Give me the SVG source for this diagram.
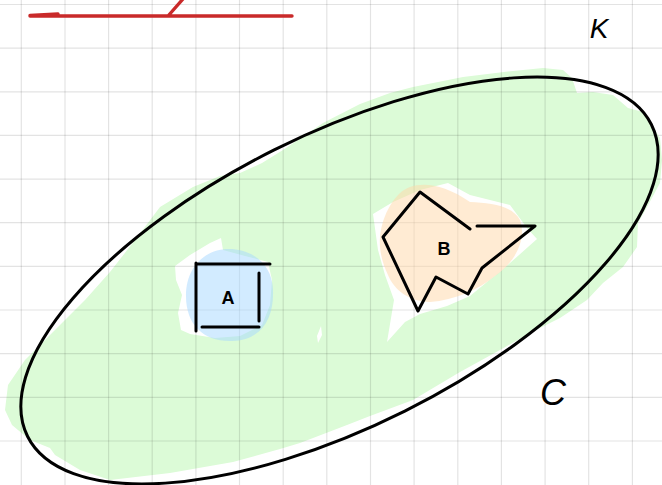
<svg xmlns="http://www.w3.org/2000/svg" width="662" height="485" viewBox="0 0 662 485">
  <style>
    .grid line { stroke: #000; stroke-opacity: 0.11; stroke-width: 1.2; }
    .ink { fill: none; stroke: #000; stroke-width: 3; stroke-linecap: round; stroke-linejoin: round; }
    .label { font-family: "Liberation Sans", Arial, sans-serif; fill: #000; text-anchor: middle; }
    .red { fill: none; stroke: #c92a2a; stroke-width: 3.4; stroke-linecap: round; }
  </style>
  <rect x="0" y="0" width="662" height="485" fill="#ffffff"/>

  <!-- fills -->
  <g id="fills">
    <path d="M5,410 L8,385 L25,360 L55,330 L85,300 L110,272 L135,240 L160,207 L193,187 L220,176 L240,173 L262,163 L283,150 L323,123 L360,104 L390,93 L413,87 L463,77 L513,71 L543,68 L563,70 L572,78 L577,93 L593,92 L613,95 L628,108 L643,112 L660,138 L662,160 L660,183 L647,207 L638,223 L637,247 L623,267 L603,283 L587,300 L560,318 L530,333 L500,350 L460,372 L413,400 L370,416 L347,425 L300,443 L280,449 L233,462 L170,473 L110,480 L80,470 L55,455 L50,448 L30,440 L12,425 Z" fill="#dcfbd7"/>
    <!-- white halo around A -->
    <path d="M175,266 L190,255 L210,243 L221,238 L223,250 L245,256 L268,262 L272,280 L270,305 L262,325 L240,336 L215,338 L190,334 L181,330 L178,313 L182,295 L176,280 Z" fill="#ffffff"/>
    <!-- white halo around B -->
    <path d="M373,214 L393,202 L420,190 L448,183 L470,195 L510,205 L527,228 L537,239 L528,247 L500,272 L487,282 L470,296 L447,306 L420,314 L405,322 L387,342 L391,318 L394,300 L385,275 L378,250 Z" fill="#ffffff"/>
    <path d="M321,326 L322,335 L318,343 L317,336 Z" fill="#ffffff"/>
  </g>

  <g id="grid" class="grid">
    <line x1="21.3" y1="0" x2="21.3" y2="485"/>
    <line x1="65" y1="0" x2="65" y2="485"/>
    <line x1="108.6" y1="0" x2="108.6" y2="485"/>
    <line x1="152.2" y1="0" x2="152.2" y2="485"/>
    <line x1="195.9" y1="0" x2="195.9" y2="485"/>
    <line x1="239.5" y1="0" x2="239.5" y2="485"/>
    <line x1="283.2" y1="0" x2="283.2" y2="485"/>
    <line x1="326.8" y1="0" x2="326.8" y2="485"/>
    <line x1="370.5" y1="0" x2="370.5" y2="485"/>
    <line x1="414.1" y1="0" x2="414.1" y2="485"/>
    <line x1="457.8" y1="0" x2="457.8" y2="485"/>
    <line x1="501.4" y1="0" x2="501.4" y2="485"/>
    <line x1="545.1" y1="0" x2="545.1" y2="485"/>
    <line x1="588.7" y1="0" x2="588.7" y2="485"/>
    <line x1="632.4" y1="0" x2="632.4" y2="485"/>
    <line x1="0" y1="4.5" x2="662" y2="4.5"/>
    <line x1="0" y1="48.1" x2="662" y2="48.1"/>
    <line x1="0" y1="91.8" x2="662" y2="91.8"/>
    <line x1="0" y1="135.4" x2="662" y2="135.4"/>
    <line x1="0" y1="179.1" x2="662" y2="179.1"/>
    <line x1="0" y1="222.7" x2="662" y2="222.7"/>
    <line x1="0" y1="266.4" x2="662" y2="266.4"/>
    <line x1="0" y1="310" x2="662" y2="310"/>
    <line x1="0" y1="353.7" x2="662" y2="353.7"/>
    <line x1="0" y1="397.3" x2="662" y2="397.3"/>
    <line x1="0" y1="441" x2="662" y2="441"/>
  </g>

  <g id="node-C">
    <ellipse class="ink" cx="0" cy="0" rx="348.7" ry="146" transform="translate(339.5,280.5) rotate(-26.57)"/>
    <text class="label" x="553" y="405" font-size="36" font-style="italic">C</text>
  </g>

  <g id="node-A">
    <path d="M229,249 C250,249 272,262 273,290 C274,318 262,340 232,341 C204,342 186,325 186,296 C186,268 204,249 229,249 Z" fill="#a5d8ff" fill-opacity="0.5"/>
    <path class="ink" d="M196,263 L196,331 M196,264 L270,264 M259,273 L259,321 M202,327 L259,327"/>
    <text class="label" x="228" y="304" font-size="18" font-weight="bold">A</text>
  </g>

  <g id="node-B">
    <path d="M380,237 C382,215 395,192 410,187 C425,182 445,185 470,202 C490,203 512,205 520,220 C527,240 515,262 495,276 C478,290 455,300 430,302 C410,302 394,290 388,275 C382,262 379,250 380,237 Z" fill="#ffd8a8" fill-opacity="0.5"/>
    <path class="ink" d="M470,229 L420,192 L383,237 L418,311 L436,277 L468,294 L482,268 L535,226 L477,226"/>
    <text class="label" x="444" y="255" font-size="18" font-weight="bold">B</text>
  </g>

  <g id="label-K">
    <text class="label" x="599" y="38" font-size="28" font-style="italic">K</text>
  </g>

  <g id="connectors">
    <path class="red" d="M30,16 L292,16 M30,15.5 L58,14 M168,16 L183,-1"/>
  </g>
</svg>
